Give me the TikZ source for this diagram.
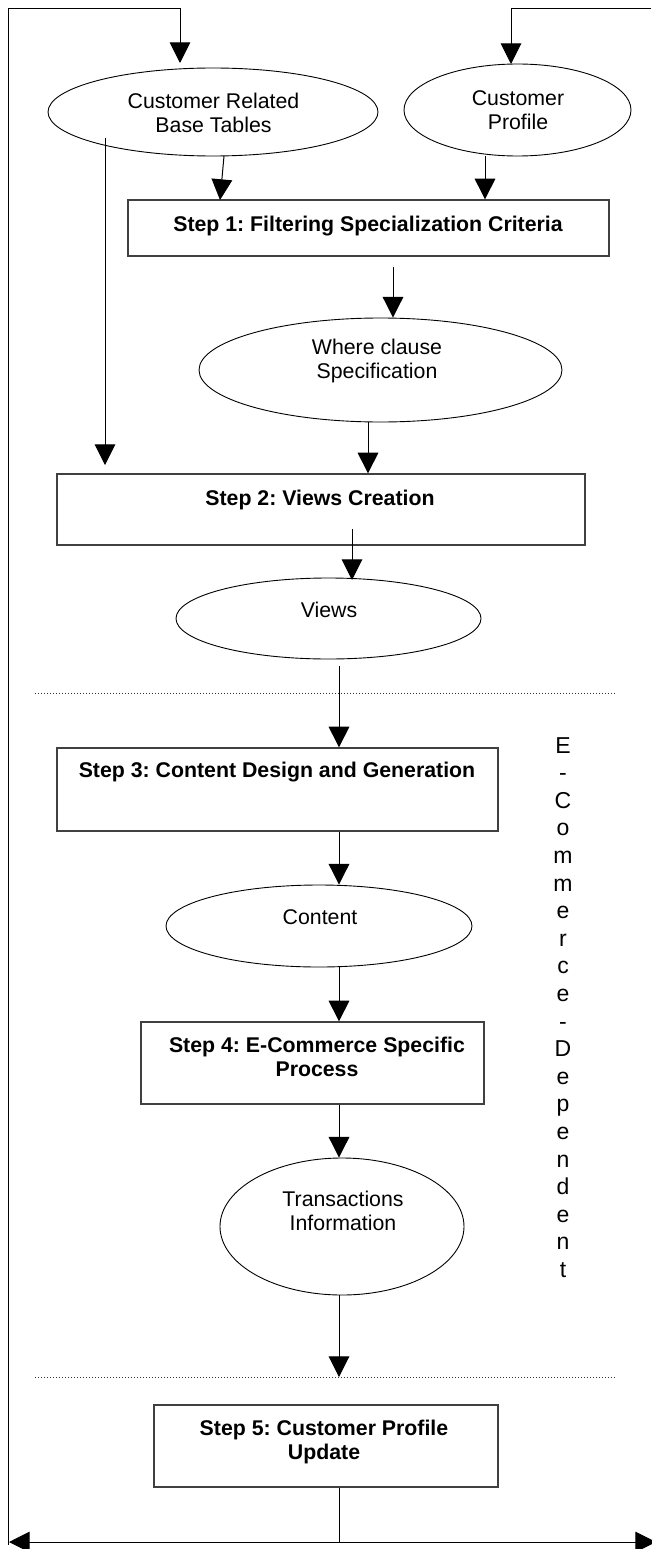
\documentclass[tikz,border=0pt]{standalone}
\usepackage{fontspec}
\setmainfont{Liberation Sans}
\usetikzlibrary{arrows.meta,shapes.geometric}
\frenchspacing
\begin{document}
\begin{tikzpicture}[x=1pt,y=-1pt,
  line width=1pt,
  arr/.style={-{Triangle[length=20.7pt,width=20.7pt]}},
  ell/.style={draw, ellipse, inner sep=0pt, line width=0.9pt},
  box/.style={draw=black!75, rectangle, inner sep=0pt, line width=1.3pt},
  lbl/.style={inner sep=0pt, align=center, font=\fontsize{21.3}{24}\selectfont},
  blbl/.style={inner sep=0pt, align=center, font=\fontsize{21.3}{24}\selectfont\bfseries},
  sep/.style={dash pattern=on 1pt off 2pt, line width=1pt, draw=black!80}]
\useasboundingbox (0,0) rectangle (651,1549);

% ellipses and boxes
\node[ell, minimum width=330pt, minimum height=88pt] (e1) at (213,112) {};
\node[lbl, anchor=north] (t1) at (213.5,92.8) {Customer Related\\Base Tables};
\node[ell, minimum width=227pt, minimum height=92pt] (e2) at (517.5,110) {};
\node[lbl, anchor=north] (t2) at (518,90.5) {Customer\\Profile};
\node[box, minimum width=481pt, minimum height=56pt] (b1) at (368.5,228) {};
\node[blbl, anchor=base] (s1) at (368,231.7) {Step 1: Filtering Specialization Criteria};
\node[ell, minimum width=363pt, minimum height=104pt] (e3) at (380.5,370) {};
\node[lbl, anchor=north] (t3) at (377,338.5) {Where clause\\Specification};
\node[box, minimum width=528pt, minimum height=71pt] (b2) at (321,509.5) {};
\node[blbl, anchor=base] (s2) at (320,505) {Step 2: Views Creation};
\node[ell, minimum width=305pt, minimum height=81pt] (e4) at (328.5,618.5) {};
\node[lbl, anchor=base] (t4) at (329,617) {Views};
\node[box, minimum width=441pt, minimum height=83pt] (b3) at (277.5,789.5) {};
\node[blbl, anchor=base] (s3) at (277,777) {Step 3: Content Design and Generation};
\node[ell, minimum width=306pt, minimum height=82pt] (e5) at (319,926) {};
\node[lbl, anchor=base] (t5) at (320,924) {Content};
\node[box, minimum width=343pt, minimum height=82pt] (b4) at (312.5,1063) {};
\node[blbl, anchor=north] (s4) at (317,1037) {Step 4: E-Commerce Specific\\Process};
\node[ell, minimum width=244pt, minimum height=137pt] (e6) at (342,1226.5) {};
\node[lbl, anchor=north] (t6) at (343,1190.5) {Transactions\\Information};
\node[box, minimum width=344pt, minimum height=82pt] (b5) at (326,1446) {};
\node[blbl, anchor=north] (s5) at (324,1419.5) {Step 5: Customer Profile\\Update};

% vertical label
\node[inner sep=0pt, align=center, font=\fontsize{23}{27.6}\selectfont] (vt) at (563,1007.5)
  {E\\-\\C\\o\\m\\m\\e\\r\\c\\e\\-\\D\\e\\p\\e\\n\\d\\e\\n\\t};

% separators
\coordinate (d1a) at (35,693);  \coordinate (d1b) at (616,693);
\coordinate (d2a) at (35,1377); \coordinate (d2b) at (616,1377);
\draw[sep] (d1a) -- (d1b);
\draw[sep] (d2a) -- (d2b);

% feedback frame
\coordinate (fbl) at (8,1545);
\coordinate (ftl) at (8,9);
\coordinate (ftm) at (180,9);
\coordinate (a1) at (180,63);
\coordinate (fre) at (651,9);
\coordinate (ftr) at (511,9);
\coordinate (a2) at (511,64);
\draw[arr] (fbl) -- (ftl) -- (ftm) -- (a1);
\draw[arr] (fre) -- (ftr) -- (a2);

% connectors
\coordinate (c1) at (224,156);
\coordinate (c1t) at (220,200);
\draw[arr] (c1) -- (c1t);
\coordinate (x485) at (485,0);
\draw[arr] (e2.south -| x485) -- (b1.north -| x485);
\coordinate (lv) at (105,138);
\coordinate (lvt) at (105,465);
\draw[arr] (lv) -- (lvt);
\coordinate (c2) at (393,267);
\draw[arr] (c2) -- (e3.north -| c2);
\coordinate (x368) at (368,0);
\draw[arr] (e3.south -| x368) -- (b2.north -| x368);
\coordinate (c3) at (352,529);
\coordinate (c3t) at (352,580);
\draw[arr] (c3) -- (c3t);
\coordinate (ax) at (339,0);
\coordinate (c4) at (339,666);
\draw[arr] (c4) -- (b3.north -| ax);
\draw[arr] (b3.south -| ax) -- (e5.north -| ax);
\draw[arr] (e5.south -| ax) -- (b4.north -| ax);
\draw[arr] (b4.south -| ax) -- (e6.north -| ax);
\draw[arr] (e6.south -| ax) -- (d2a -| ax);
\coordinate (bm) at (339,1542);
\coordinate (bl) at (9,1542);
\coordinate (br) at (656,1542);
\draw (b5.south -| ax) -- (bm);
\draw[arr] (bm) -- (bl);
\draw[arr] (bm) -- (br);
\end{tikzpicture}
\end{document}
